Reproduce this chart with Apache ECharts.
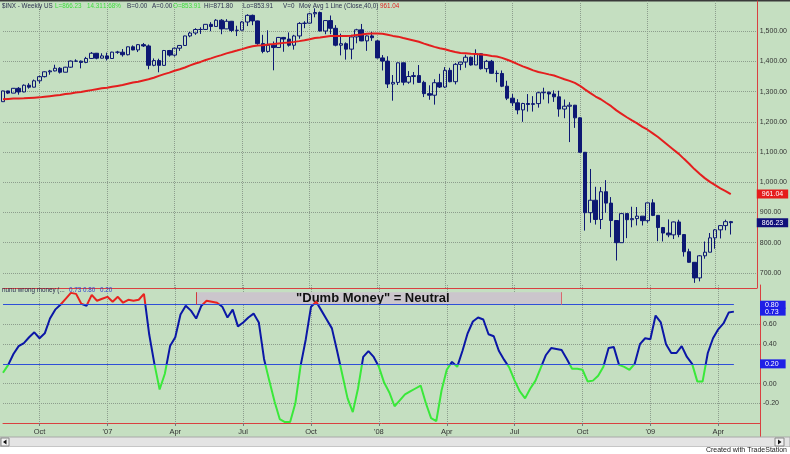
<!DOCTYPE html>
<html><head><meta charset="utf-8">
<script src="https://cdn.jsdelivr.net/npm/echarts@6/dist/echarts.min.js"></script>
<style>html,body{margin:0;padding:0;background:#c5dfc1;}#c{width:790px;height:454px;}</style>
</head><body><div id="c"></div>
<script>
// ---- data (weekly S&P 500) ----
const startDate = '2006-08-18';
const weeksShown = 146; // 141 bars + empty space on the right
const opens = [1266.74,1302.30,1295.09,1311.01,1298.92,1321.18,1314.78,1335.85,1349.59,1365.62,
1368.60,1377.34,1364.30,1380.90,1401.20,1400.95,1396.71,1409.84,1427.09,1410.76,
1418.30,1409.71,1430.73,1430.50,1422.18,1448.39,1438.06,1455.54,1451.19,1387.17,
1402.84,1386.95,1436.11,1420.86,1443.76,1452.85,1484.35,1494.07,1505.62,1505.85,
1522.75,1515.73,1536.34,1507.67,1532.91,1502.56,1503.35,1530.44,1552.50,1534.10,
1458.95,1433.06,1453.64,1445.94,1479.37,1473.99,1453.55,1484.25,1525.75,1526.75,
1557.59,1561.80,1500.63,1535.28,1509.65,1453.70,1458.74,1440.70,1481.14,1504.66,
1467.95,1484.46,1467.97,1411.63,1401.02,1325.19,1330.61,1395.42,1331.29,1349.99,
1353.11,1330.63,1293.37,1288.14,1329.51,1315.22,1370.40,1332.83,1390.33,1397.84,
1413.90,1388.28,1425.35,1375.93,1400.38,1360.68,1360.03,1317.93,1278.38,1262.90,
1239.49,1260.68,1257.76,1260.31,1296.32,1298.20,1292.20,1282.83,1242.31,1251.70,
1255.08,1213.27,1099.23,899.22,940.55,876.77,968.75,930.99,873.29,800.03,
896.24,876.07,879.73,887.88,872.80,931.80,890.35,850.12,831.95,825.88,
868.60,826.84,770.05,735.09,683.38,756.55,768.54,815.94,842.50,856.56,
869.60];
const closes = [1302.30,1295.09,1311.01,1298.92,1321.18,1314.78,1335.85,1349.59,1365.62,1368.60,
1377.34,1364.30,1380.90,1401.20,1400.95,1396.71,1409.84,1427.09,1410.76,1418.30,
1409.71,1430.73,1430.50,1422.18,1448.39,1438.06,1455.54,1451.19,1387.17,1402.84,
1386.95,1436.11,1420.86,1443.76,1452.85,1484.35,1494.07,1505.62,1505.85,1522.75,
1515.73,1536.34,1507.67,1532.91,1502.56,1503.35,1530.44,1552.50,1534.10,1458.95,
1433.06,1453.64,1445.94,1479.37,1473.99,1453.55,1484.25,1525.75,1526.75,1557.59,
1561.80,1500.63,1535.28,1509.65,1453.70,1458.74,1440.70,1481.14,1504.66,1467.95,
1484.46,1478.49,1411.63,1401.02,1325.19,1330.61,1395.42,1331.29,1349.99,1353.11,
1330.63,1293.37,1288.14,1329.51,1315.22,1370.40,1332.83,1390.33,1397.84,1413.90,
1388.28,1425.35,1375.93,1400.38,1360.68,1360.03,1317.93,1278.38,1262.90,1239.49,
1260.68,1257.76,1260.31,1296.32,1298.20,1292.20,1282.83,1242.31,1251.70,1255.08,
1213.27,1099.23,899.22,940.55,876.77,968.75,930.99,873.29,800.03,896.24,
876.07,879.73,887.88,872.80,931.80,890.35,850.12,831.95,825.88,868.60,
826.84,770.05,735.09,683.38,756.55,768.54,815.94,842.50,856.56,869.60,
866.23];
const lows = [1266.7,1292,1295,1290,1298,1310,1314,1327,1347,1356,
1367,1360,1364,1379,1398,1377,1394,1408,1407,1410,
1403,1408,1425,1416,1420,1437,1431,1448,1374,1384,
1364,1386,1416,1416,1435,1452,1480,1488,1491,1505,
1500,1515,1490,1507,1497,1484,1503,1517,1520,1455,
1427,1429,1370.6,1445,1432,1449,1439,1475,1510,1526,
1546,1500,1490,1490,1450,1420,1406,1407,1460,1467,
1435,1468,1410,1370,1312,1270,1322,1321,1326,1324,
1329,1282,1273,1257,1312,1312,1331,1324,1371,1379,
1386,1388,1373,1364,1359,1331,1315,1272,1252,1225,
1200,1234,1234,1247,1274,1261,1266,1217,1212,1133,
1180,1098,840,866,860,845,899,818,741,800,
815,851,857,857,866,888,805,804,818,812,
818,754,734,667,672,747,768,780,814,841,
827];
const highs = [1303,1303,1312,1315,1324,1328,1340,1353,1367,1372,
1389,1381,1382,1403,1407,1403,1415,1431,1428,1427,
1429,1432,1435,1441,1449,1453,1457,1461,1456,1410,
1409,1438,1438,1446,1453,1485,1498,1510,1513,1523,
1530,1540,1540,1540,1534,1518,1533,1556,1555,1535,
1488,1503,1466,1481,1481,1496,1488,1530,1533,1561,
1576,1565,1536,1552,1520,1492,1463,1488,1508,1524,
1486,1498,1471,1421,1417,1355,1396,1396,1368,1365,
1388,1336,1321,1341,1359,1381,1379,1395,1399,1422,
1416,1440,1427,1405,1405,1370,1370,1336,1292,1275,
1263,1292,1285,1300,1313,1300,1304,1303,1274,1265,
1256,1215,1100,1044,985,984,1007,951,874,897,
897,919,918,888,932,944,891,852,877,870,
876,828,780,736,759,804,832,845,857,876,
872];
const ma40 = [1275,1276,1277,1277.5,1278,1279,1280,1281,1283,1285,
1287,1289,1292,1294,1297,1299,1302,1305,1308,1311,
1313,1316,1319,1322,1326,1330,1333,1337,1341,1346,
1352,1358,1363,1369,1374,1380,1387,1393,1398.3,1404.7,
1410.0,1416.0,1420.9,1426.7,1431.2,1435.9,1440.8,1445.9,1450.1,1452.4,
1453.8,1456.0,1457.6,1459.6,1461.4,1462.8,1464.7,1467.2,1470.1,1473.6,
1477.4,1479.1,1481.7,1483.9,1484.0,1484.5,1484.1,1484.8,1487.7,1489.3,
1491.7,1492.8,1492.6,1491.5,1488.3,1484.5,1482.0,1477.6,1473.7,1469.5,
1464.9,1458.8,1453.3,1448.2,1443.5,1440.2,1435.3,1431.2,1427.8,1426.7,
1425.6,1424.9,1423.1,1421.1,1418.3,1416.0,1411.8,1405.6,1399.0,1391.0,
1383.5,1377.4,1370.5,1365.2,1361.3,1357.1,1353.2,1347.2,1340.9,1335.6,
1328.8,1319.3,1306.5,1295.0,1283.8,1274.8,1263.2,1251.8,1238.0,1226.6,
1215.2,1204.9,1194.9,1183.5,1173.9,1161.9,1149.8,1135.8,1121.5,1107.9,
1093.9,1077.5,1061.5,1043.6,1028.5,1013.7,1001.2,990.3,980.1,970.9,
961.04];
const dumbMoney = [0.11,0.19,0.30,0.38,0.41,0.47,0.52,0.46,0.51,0.66,
0.75,0.80,0.86,0.92,0.91,0.81,0.79,0.90,0.84,0.86,
0.88,0.83,0.88,0.82,0.85,0.84,0.85,0.91,0.50,0.20,
-0.06,0.10,0.38,0.47,0.70,0.79,0.74,0.66,0.79,0.84,
0.83,0.82,0.78,0.67,0.75,0.58,0.62,0.67,0.71,0.62,
0.25,0.03,-0.18,-0.36,-0.39,-0.39,-0.20,0.18,0.45,0.78,
0.83,0.74,0.65,0.56,0.33,0.09,-0.15,-0.29,-0.05,0.27,
0.33,0.27,0.17,0.01,-0.09,-0.23,-0.17,-0.11,-0.08,-0.05,
-0.02,-0.20,-0.35,-0.38,-0.07,0.14,0.22,0.17,0.33,0.51,
0.63,0.67,0.65,0.50,0.48,0.33,0.24,0.16,0.03,-0.08,
-0.15,-0.05,0.03,0.16,0.29,0.36,0.35,0.34,0.25,0.15,
0.15,0.14,0.02,0.03,0.08,0.17,0.36,0.37,0.19,0.17,
0.14,0.20,0.40,0.46,0.45,0.69,0.62,0.40,0.31,0.31,
0.38,0.27,0.20,0.02,0.02,0.31,0.46,0.55,0.61,0.72,
0.73];
const upperBand = 0.80;
const lowerBand = 0.20;
const priceLabels = [700,800,900,1000,1100,1200,1300,1400,1500];
const oscLabels = [-0.2,0,0.4,0.6];
const monthNames = {3:'Apr',6:'Jul',9:'Oct'};
const neutralBox = {fromIndex:37, toIndex:107, top:0.927, text:'"Dumb Money" = Neutral'};

// ---- categories ----
const cats = [];
const t0 = Date.parse(startDate + 'T00:00:00Z');
for (let i = 0; i < weeksShown; i++) cats.push(new Date(t0 + i * 7 * 864e5).toISOString().slice(0, 10));
function isQuarterStart(i) {
  const d = new Date(cats[i] + 'T00:00:00Z');
  return d.getUTCDate() <= 7 && d.getUTCMonth() % 3 === 0;
}
function quarterLabel(v) {
  const d = new Date(v + 'T00:00:00Z');
  const m = d.getUTCMonth();
  return m === 0 ? "'" + String(d.getUTCFullYear()).slice(2) : monthNames[m];
}
const last = closes.length - 1;
const candleData = closes.map((c, i) => [opens[i], c, lows[i], highs[i]]);

const FONT = 'Arial, "Liberation Sans", sans-serif';
const RED = '#d94040';
const GRIDC = '#8d9d8d';
const DARK = '#2b2f4f';
const NAVY = '#0d1873';
const BLUEBOX = '#1f1fe6';
const HIDDEN = {color:'rgba(0,0,0,0)', width:1, type:'solid'};

const chart = echarts.init(document.getElementById('c'));
const upperSplitColors = [];
for (let v = 650; v <= 1600; v += 50) upperSplitColors.push(priceLabels.includes(v) ? GRIDC : 'rgba(0,0,0,0)');
const lowerSplitColors = [];
for (let k = 0; k <= 7; k++) { const v = Math.round((-0.4 + k * 0.2) * 100) / 100; lowerSplitColors.push(oscLabels.includes(v) ? GRIDC : 'rgba(0,0,0,0)'); }

function hdr(x, y, text, color) {
  return {type:'text', x:x, y:y, silent:true, z:50, style:{text:text, fill:color, font:'6.3px ' + FONT, textVerticalAlign:'middle'}};
}
function boxLabel(text, bg, pad) {
  return {show:true, position:'end', distance:0, color:'#fff', fontSize:7, lineHeight:7, padding:pad, backgroundColor:bg, formatter:text};
}

const option = {
  animation: false,
  backgroundColor: '#c5dfc1',
  textStyle: {fontFamily: FONT},
  grid: [
    {left: 3, right: 30, top: 1, height: 287},
    {left: 3, right: 30, top: 285, height: 138}
  ],
  xAxis: [
    {type:'category', gridIndex:0, data:cats, boundaryGap:false,
     axisLine:{show:true, onZero:false, lineStyle:{color:RED, width:1}}, axisTick:{show:false}, axisLabel:{show:false},
     splitLine:{show:true, interval:(i)=>isQuarterStart(i), lineStyle:{color:GRIDC, type:'dotted', width:1}}},
    {type:'category', gridIndex:1, data:cats, boundaryGap:false,
     axisLine:{show:true, onZero:false, lineStyle:{color:RED, width:1}},
     axisTick:{show:true, interval:(i)=>isQuarterStart(i), length:3, lineStyle:{color:'#777'}},
     axisLabel:{show:true, interval:(i)=>isQuarterStart(i), formatter:(v)=>quarterLabel(v), fontSize:7.5, color:'#333', margin:5},
     splitLine:{show:true, interval:(i)=>isQuarterStart(i), lineStyle:{color:GRIDC, type:'dotted', width:1}}}
  ],
  yAxis: [
    {type:'value', gridIndex:0, position:'right', min:650, max:1600, interval:50, scale:true,
     axisLine:{show:true, lineStyle:{color:RED}}, axisTick:{show:false},
     axisLabel:{margin:3, fontSize:7, color:'#333', formatter:(v)=>priceLabels.includes(v) ? v.toLocaleString('en-US',{minimumFractionDigits:2, maximumFractionDigits:2}) : ''},
     splitLine:{show:true, lineStyle:{color:upperSplitColors, type:'dotted', width:1}}},
    {type:'value', gridIndex:1, position:'right', min:-0.4, max:1.0, interval:0.2,
     axisLine:{show:true, lineStyle:{color:RED}}, axisTick:{show:false},
     axisLabel:{margin:3, fontSize:7, color:'#333', formatter:(v)=>{const r=Math.round(v*100)/100; return oscLabels.includes(r) ? r.toFixed(2) : '';}},
     splitLine:{show:true, lineStyle:{color:lowerSplitColors, type:'dotted', width:1}}}
  ],
  visualMap: [{type:'piecewise', show:false, seriesIndex:2, dimension:1,
    pieces:[{gt:upperBand, color:'#e8231f'}, {gt:lowerBand, lte:upperBand, color:'#0b17a6'}, {lte:lowerBand, color:'#3ae83a'}]}],
  series: [
    {type:'candlestick', xAxisIndex:0, yAxisIndex:0, data:candleData, barWidth:4,
     itemStyle:{color:'rgba(0,0,0,0)', color0:NAVY, borderColor:NAVY, borderColor0:NAVY, borderWidth:1}},
    {type:'line', xAxisIndex:0, yAxisIndex:0, data:ma40, symbol:'none', z:3,
     lineStyle:{color:'#e41e1e', width:2},
     markLine:{silent:true, symbol:'none', lineStyle:HIDDEN,
       data:[
         {yAxis:ma40[last], lineStyle:HIDDEN, label:boxLabel(ma40[last].toFixed(2), '#e51c1c', [1,5,1,5])},
         {yAxis:closes[last], lineStyle:HIDDEN, label:boxLabel(closes[last].toFixed(2), '#10107a', [1,5,1,5])}
       ]}},
    {type:'line', xAxisIndex:1, yAxisIndex:1, data:dumbMoney, symbol:'none', z:4,
     lineStyle:{width:2},
     markArea:{silent:true, itemStyle:{color:'#cbc6cc'},
       label:{show:true, position:'inside', offset:[-6,0], formatter:neutralBox.text, fontWeight:'bold', fontSize:13, color:'#111', fontFamily:FONT},
       data:[[{xAxis:cats[neutralBox.fromIndex], yAxis:upperBand}, {xAxis:cats[neutralBox.toIndex], yAxis:neutralBox.top}]]},
     markLine:{silent:true, symbol:'none', label:{show:false}, lineStyle:{color:'#2f4fd8', width:1, type:'solid'},
       data:[
         [{xAxis:cats[0], yAxis:upperBand}, {xAxis:cats[last], yAxis:upperBand}],
         [{xAxis:cats[0], yAxis:lowerBand}, {xAxis:cats[last], yAxis:lowerBand}],
         [{xAxis:cats[neutralBox.fromIndex], yAxis:upperBand, lineStyle:{color:'#d03a3a'}}, {xAxis:cats[neutralBox.fromIndex], yAxis:neutralBox.top}],
         [{xAxis:cats[neutralBox.toIndex], yAxis:upperBand, lineStyle:{color:'#d86a6a'}}, {xAxis:cats[neutralBox.toIndex], yAxis:neutralBox.top}],
         {yAxis:dumbMoney[last], lineStyle:HIDDEN, label:boxLabel(dumbMoney[last].toFixed(2), BLUEBOX, [0,7,1,5])},
         {yAxis:upperBand, lineStyle:HIDDEN, label:boxLabel(upperBand.toFixed(2), BLUEBOX, [1,7,0,5])},
         {yAxis:lowerBand, lineStyle:HIDDEN, label:boxLabel(lowerBand.toFixed(2), BLUEBOX, [1,7,1,5])}
       ]}}
  ],
  graphic: [
    {type:'rect', silent:true, shape:{x:0, y:0, width:790, height:1.5}, style:{fill:'#3a3a3a'}},
    hdr(2, 6, '$INX - Weekly', DARK),
    hdr(44, 6, 'US', DARK),
    hdr(55, 6, 'L=' + closes[last].toFixed(2), '#3ddc3d'),
    hdr(87, 6, '14.31', '#3ddc3d'),
    hdr(103, 6, '1.68%', '#3ddc3d'),
    hdr(127, 6, 'B=0.00', DARK),
    hdr(152, 6, 'A=0.00', DARK),
    hdr(173, 6, 'O=853.91', '#3ddc3d'),
    hdr(204, 6, 'Hi=871.80', DARK),
    hdr(243, 6, 'Lo=853.91', DARK),
    hdr(283, 6, 'V=0', DARK),
    hdr(299, 6, 'Mov Avg 1 Line (Close,40,0)', DARK),
    hdr(380, 6, ma40[last].toFixed(2), '#e02020'),
    hdr(2, 290, 'nunu wrong money (...', DARK),
    hdr(69, 290, dumbMoney[last].toFixed(2), '#2c3fd0'),
    hdr(83, 290, upperBand.toFixed(2), '#2c3fd0'),
    hdr(100, 290, lowerBand.toFixed(2), '#2c3fd0'),
    {type:'line', silent:true, shape:{x1:760.5, y1:423, x2:760.5, y2:437}, style:{stroke:RED, lineWidth:1}},
    {type:'rect', silent:true, shape:{x:0, y:437, width:790, height:10}, style:{fill:'#e4e4e4', stroke:'#a8a8a8', lineWidth:1}},
    {type:'rect', silent:true, shape:{x:1, y:438, width:8, height:8}, style:{fill:'#f2f2f2', stroke:'#888', lineWidth:1}},
    {type:'polygon', silent:true, shape:{points:[[3,442],[6.5,439.5],[6.5,444.5]]}, style:{fill:'#111'}},
    {type:'rect', silent:true, shape:{x:775, y:438, width:9, height:8}, style:{fill:'#f2f2f2', stroke:'#888', lineWidth:1}},
    {type:'polygon', silent:true, shape:{points:[[781.5,442],[778,439.5],[778,444.5]]}, style:{fill:'#111'}},
    {type:'rect', silent:true, shape:{x:0, y:447, width:790, height:7}, style:{fill:'#ffffff'}},
    {type:'text', silent:true, x:787, y:450, style:{text:'Created with TradeStation', fill:'#222', font:'7px ' + FONT, textAlign:'right', textVerticalAlign:'middle'}}
  ]
};
chart.setOption(option);
</script>
</body></html>
